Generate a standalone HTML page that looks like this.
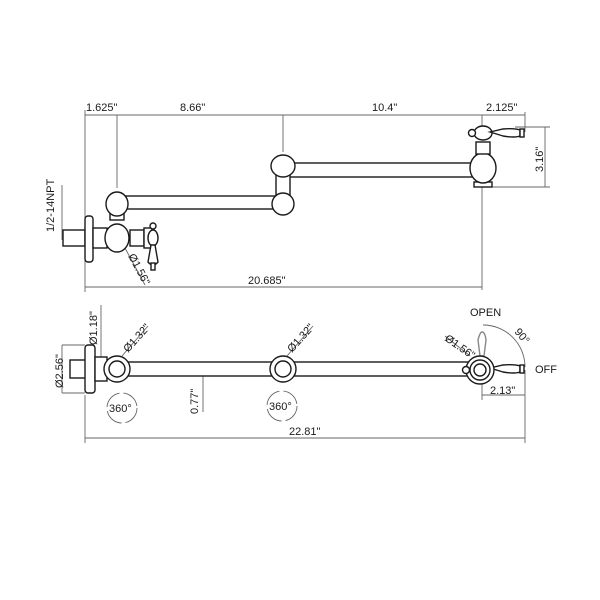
<!DOCTYPE html>
<html><head><style>html,body{margin:0;padding:0;background:#fff}svg{display:block}</style></head><body>
<svg width="600" height="600" viewBox="0 0 600 600" xmlns="http://www.w3.org/2000/svg" font-family="Liberation Sans, sans-serif" font-size="10" fill="none" stroke="#1a1a1a" stroke-width="1.4">
<rect width="600" height="600" fill="#fff" stroke="none"/>
<g stroke="#666" stroke-width="0.9">
<line x1="85" y1="115" x2="525" y2="115"/>
<line x1="85" y1="110" x2="85" y2="292"/>
<line x1="117" y1="115" x2="117" y2="188"/>
<line x1="283" y1="115" x2="283" y2="152"/>
<line x1="482" y1="115" x2="482" y2="128"/>
<line x1="525" y1="112" x2="525" y2="132"/>
<line x1="482" y1="187" x2="482" y2="290"/>
<line x1="85" y1="287" x2="482" y2="287"/>
<line x1="545" y1="127" x2="545" y2="187"/>
<line x1="515" y1="127" x2="550" y2="127"/>
<line x1="490" y1="187" x2="550" y2="187"/>
<line x1="62" y1="185" x2="62" y2="240"/>
<line x1="125" y1="248" x2="145" y2="285"/>
</g>
<g fill="#1a1a1a" stroke="none" font-size="11">
<text x="86" y="111">1.625"</text>
<text x="180" y="111">8.66"</text>
<text x="372" y="111">10.4"</text>
<text x="486" y="111">2.125"</text>
<text x="248" y="284">20.685"</text>
<text transform="translate(543,172) rotate(-90)">3.16"</text>
<text transform="translate(54,232) rotate(-90)">1/2-14NPT</text>
<text transform="translate(128,256) rotate(62)">Ø1.56"</text>
</g>
<g fill="#fff">
<rect x="288" y="163" width="186" height="14"/>
<rect x="126" y="196" width="150" height="13"/>
<rect x="276" y="175" width="14" height="20"/>
<ellipse cx="283" cy="166" rx="12" ry="11"/>
<circle cx="283" cy="204" r="11"/>
<rect x="474" y="182" width="18" height="5"/>
<ellipse cx="483" cy="168" rx="13" ry="15"/>
<rect x="476" y="142" width="14" height="12"/>
<ellipse cx="483" cy="133" rx="9" ry="7"/>
<path d="M490 132 L503 129 Q515 128 520 130 L520 136 Q515 138 503 136 Z"/>
<rect x="520" y="129" width="4" height="8"/>
<circle cx="472" cy="133" r="3.5"/>
<rect x="110" y="208" width="14" height="12"/>
<ellipse cx="117" cy="204" rx="11" ry="12"/>
<rect x="63" y="230" width="22" height="16"/>
<rect x="85" y="216" width="8" height="46" rx="3"/>
<rect x="93" y="228" width="14" height="20"/>
<rect x="130" y="230" width="14" height="16"/>
<ellipse cx="117" cy="238" rx="12" ry="14"/>
<rect x="144" y="228" width="8" height="20"/>
<ellipse cx="153" cy="238" rx="5" ry="8"/>
<path d="M151 245 L155 245 L158 262 Q153 268 148 262 Z"/>
<rect x="151" y="263" width="4" height="7"/>
<circle cx="153" cy="226" r="3"/>
</g>
<g stroke="#666" stroke-width="0.9">
<line x1="62" y1="345" x2="85" y2="345"/>
<line x1="62" y1="393" x2="85" y2="393"/>
<line x1="62" y1="345" x2="62" y2="393"/>
<line x1="101" y1="305" x2="101" y2="362"/>
<line x1="85" y1="395" x2="85" y2="443"/>
<line x1="85" y1="438" x2="525" y2="438"/>
<line x1="525" y1="370" x2="525" y2="443"/>
<line x1="482" y1="380" x2="482" y2="400"/>
<line x1="482" y1="395" x2="525" y2="395"/>
<line x1="203" y1="362" x2="203" y2="412"/>
<line x1="122" y1="356" x2="148" y2="326"/>
<line x1="287" y1="356" x2="313" y2="326"/>
<line x1="470" y1="356" x2="445" y2="336"/>
<path d="M483 325 A42 42 0 0 1 525 367"/>
<circle cx="122" cy="408" r="15" stroke-dasharray="20 4"/>
<circle cx="282" cy="406" r="15" stroke-dasharray="20 4"/>
</g>
<g fill="#1a1a1a" stroke="none" font-size="11">
<text transform="translate(63,388) rotate(-90)">Ø2.56"</text>
<text transform="translate(97,345) rotate(-90)">Ø1.18"</text>
<text transform="translate(128,353) rotate(-48)">Ø1.32"</text>
<text transform="translate(292,353) rotate(-48)">Ø1.32"</text>
<text transform="translate(444,340) rotate(35)">Ø1.56"</text>
<text transform="translate(198,414) rotate(-90)">0.77"</text>
<text x="109" y="412">360°</text>
<text x="269" y="410">360°</text>
<text x="289" y="435">22.81"</text>
<text x="490" y="394">2.13"</text>
<text x="470" y="316">OPEN</text>
<text transform="translate(514,332) rotate(50)">90°</text>
<text x="535" y="373">OFF</text>
</g>
<g fill="#fff">
<rect x="126" y="362" width="346" height="14"/>
<rect x="70" y="360" width="16" height="18"/>
<rect x="85" y="345" width="10" height="48" rx="3"/>
<rect x="95" y="357" width="12" height="24"/>
<circle cx="117" cy="369" r="13"/>
<circle cx="117" cy="369" r="8"/>
<circle cx="283" cy="369" r="13"/>
<circle cx="283" cy="369" r="8"/>
<path d="M490 368 L503 365 Q515 364 520 366 L520 372 Q515 374 503 372 Z"/>
<rect x="520" y="365" width="4" height="8"/>
<path d="M480 356 L478 340 Q480 332 482 332 Q485 332 486 340 L484 356 Z" stroke="#888"/>
<circle cx="480" cy="370" r="14"/>
<circle cx="480" cy="370" r="10"/>
<circle cx="480" cy="370" r="6"/>
<circle cx="466" cy="370" r="3.5"/>
</g>
</svg>
</body></html>
